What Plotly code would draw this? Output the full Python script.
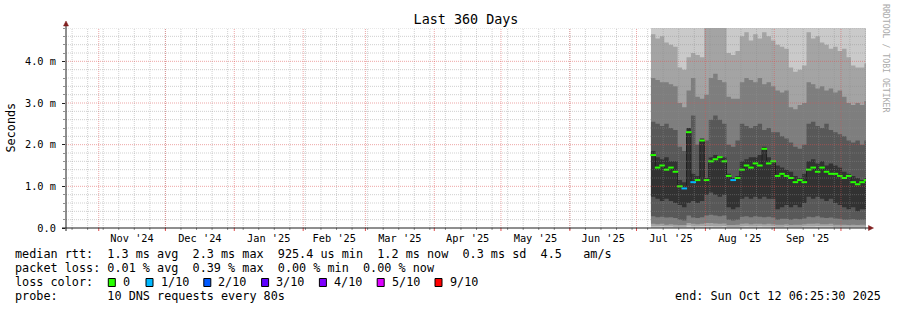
import plotly.graph_objects as go
import pandas as pd
import numpy as np

# ---------------- data (values in ms) ----------------
range_start = "2024-10-17 06:25:30"
range_end = "2025-10-12 06:25:30"
first_bin = "2025-07-07 12:00"   # smoke data starts here, one bin = 2 days

# sorted ping ranks per 2-day bin (p10 is above the visible range)
p10 = [5.5, 5.5, 5.5, 5.5, 5.5, 5.5, 5.5, 5.5, 5.5, 5.5, 5.5, 5.5, 5.5, 5.5, 5.5, 5.5, 5.5,
       5.5, 5.5, 5.5, 5.5, 5.5, 5.5, 5.5, 5.5, 5.5, 5.5, 5.5, 5.5, 5.5, 5.5, 5.5, 5.5, 5.5,
       5.5, 5.5, 5.5, 5.5, 5.5, 5.5, 5.5, 5.5, 5.5, 5.5, 5.5, 5.5, 5.5, 5.5, 5.5]
p9 = [4.65, 4.55, 4.6, 4.45, 4.4, 4.35, 3.85, 3.8, 4.1, 4.2, 4.15, 4.1, 4.9, 4.9, 4.9, 4.9, 4.9,
      4.2, 4.15, 4.25, 4.6, 4.7, 4.5, 4.65, 4.55, 4.7, 4.6, 4.5, 4.4, 4.35, 4.3, 3.85, 3.75, 3.8,
      3.9, 4.7, 4.55, 4.6, 4.45, 4.4, 4.3, 4.35, 4.25, 4.3, 4.1, 3.9, 3.85, 3.85, 3.95]
p8 = [3.6, 3.55, 3.5, 3.5, 3.45, 3.4, 3.0, 2.9, 3.3, 3.6, 3.15, 3.1, 3.2, 3.6, 3.7, 3.55, 3.5,
      3.15, 3.1, 3.1, 3.5, 3.6, 3.55, 3.5, 3.6, 3.45, 3.5, 3.4, 3.3, 3.25, 3.3, 2.9, 2.85, 2.95,
      3.0, 3.5, 3.45, 3.35, 3.4, 3.3, 3.35, 3.25, 3.3, 3.15, 3.0, 2.95, 3.0, 2.95, 3.05]
p7 = [2.55, 2.5, 2.45, 2.5, 2.4, 2.35, 1.95, 1.85, 2.2, 2.7, 2.0, 1.95, 2.1, 2.6, 2.7, 2.6, 2.5,
      2.0, 1.95, 2.1, 2.5, 2.45, 2.4, 2.45, 2.5, 2.35, 2.4, 2.3, 2.3, 2.2, 2.15, 2.05, 1.95, 1.9,
      2.0, 2.5, 2.55, 2.45, 2.4, 2.5, 2.35, 2.3, 2.25, 2.2, 2.1, 2.05, 2.1, 2.0, 2.1]
p6 = [1.85, 1.7, 1.65, 1.7, 1.6, 1.6, 1.15, 1.1, 2.4, 1.3, 1.25, 2.15, 1.2, 1.7, 1.75, 1.7, 1.7,
      1.3, 1.2, 1.25, 1.6, 1.65, 1.7, 1.7, 1.75, 1.95, 1.7, 1.6, 1.5, 1.45, 1.4, 1.35, 1.25, 1.2,
      1.3, 1.6, 1.65, 1.55, 1.6, 1.5, 1.55, 1.5, 1.45, 1.35, 1.3, 1.25, 1.2, 1.15, 1.2]
median = [1.75, 1.45, 1.5, 1.4, 1.45, 1.35, 1.0, 0.95, 2.3, 1.1, 1.15, 2.1, 1.15, 1.6, 1.65, 1.7,
          1.6, 1.25, 1.15, 1.2, 1.4, 1.5, 1.45, 1.55, 1.5, 1.9, 1.55, 1.6, 1.25, 1.3, 1.25, 1.2,
          1.1, 1.15, 1.1, 1.4, 1.45, 1.35, 1.45, 1.35, 1.3, 1.3, 1.25, 1.2, 1.25, 1.1, 1.05, 1.1, 1.15]
p5 = [0.75, 0.7, 0.65, 0.7, 0.65, 0.6, 0.55, 0.5, 0.6, 0.65, 0.6, 0.65, 0.8, 0.85, 0.8, 0.75, 0.8,
      0.5, 0.45, 0.5, 0.7, 0.75, 0.7, 0.75, 0.7, 0.75, 0.7, 0.7, 0.45, 0.5, 0.55, 0.5, 0.55, 0.5,
      0.6, 0.75, 0.7, 0.75, 0.7, 0.65, 0.7, 0.6, 0.55, 0.5, 0.45, 0.5, 0.4, 0.45, 0.45]
p4 = [0.28, 0.26, 0.27, 0.25, 0.26, 0.24, 0.2, 0.18, 0.3, 0.25, 0.24, 0.26, 0.3, 0.32, 0.3, 0.28, 0.3,
      0.2, 0.18, 0.2, 0.27, 0.28, 0.26, 0.28, 0.27, 0.26, 0.27, 0.25, 0.2, 0.22, 0.22, 0.2, 0.22, 0.21,
      0.23, 0.27, 0.26, 0.28, 0.25, 0.24, 0.25, 0.23, 0.22, 0.2, 0.2, 0.21, 0.19, 0.2, 0.2]
p3 = [0.1, 0.09, 0.1, 0.08, 0.09, 0.08, 0.07, 0.07, 0.12, 0.1, 0.09, 0.1, 0.12, 0.12, 0.11, 0.1, 0.11,
      0.07, 0.07, 0.08, 0.1, 0.11, 0.09, 0.1, 0.1, 0.09, 0.1, 0.09, 0.08, 0.08, 0.09, 0.07, 0.08, 0.08,
      0.09, 0.1, 0.1, 0.11, 0.09, 0.09, 0.1, 0.08, 0.08, 0.08, 0.07, 0.08, 0.07, 0.08, 0.08]
p2 = [0.04, 0.04, 0.05, 0.04, 0.04, 0.03, 0.03, 0.03, 0.06, 0.04, 0.04, 0.05, 0.05, 0.05, 0.04, 0.04, 0.05,
      0.03, 0.03, 0.03, 0.04, 0.05, 0.04, 0.04, 0.05, 0.04, 0.04, 0.04, 0.03, 0.03, 0.04, 0.03, 0.03, 0.03,
      0.04, 0.04, 0.04, 0.05, 0.04, 0.04, 0.04, 0.03, 0.03, 0.03, 0.03, 0.03, 0.03, 0.03, 0.03]
p1 = [0.0, 0.0, 0.0, 0.0, 0.0, 0.0, 0.0, 0.0, 0.0, 0.0, 0.0, 0.0, 0.0, 0.0, 0.0, 0.0, 0.0,
      0.0, 0.0, 0.0, 0.0, 0.0, 0.0, 0.0, 0.0, 0.0, 0.0, 0.0, 0.0, 0.0, 0.0, 0.0, 0.0, 0.0,
      0.0, 0.0, 0.0, 0.0, 0.0, 0.0, 0.0, 0.0, 0.0, 0.0, 0.0, 0.0, 0.0, 0.0, 0.0]
# packet loss per bin (out of 10 pings)
loss = [0, 0, 0, 0, 0, 0, 0, 1, 0, 1, 0, 0, 0, 0, 0, 0, 0, 0, 1, 0, 0, 0, 0, 0, 0, 0, 0, 0, 0, 0,
        0, 0, 0, 0, 0, 0, 0, 0, 0, 0, 0, 0, 0, 0, 0, 0, 0, 0, 0]

month_labels = ["Nov '24", "Dec '24", "Jan '25", "Feb '25", "Mar '25", "Apr '25",
                "May '25", "Jun '25", "Jul '25", "Aug '25", "Sep '25"]
y_tick_vals = [0, 1, 2, 3, 4]
y_tick_text = ["0.0", "1.0 m", "2.0 m", "3.0 m", "4.0 m"]

loss_labels = ["0", "1/10", "2/10", "3/10", "4/10", "5/10", "9/10"]
loss_colors = ["#26ff00", "#00b8ff", "#0059ff", "#5e00ff", "#7e00ff", "#dd00ff", "#ff0000"]
loss_color_of = {0: "#26ff00", 1: "#00b8ff", 2: "#0059ff", 3: "#5e00ff", 4: "#7e00ff", 5: "#dd00ff", 9: "#ff0000"}

legend_rows = [
    "median rtt:  1.3 ms avg  2.3 ms max  925.4 us min  1.2 ms now  0.3 ms sd  4.5   am/s",
    "packet loss: 0.01 % avg  0.39 % max  0.00 % min  0.00 % now",
    "loss color:",
    "probe:       10 DNS requests every 80s",
]
end_text = "end: Sun Oct 12 06:25:30 2025"

# ---------------- layout geometry ----------------
W, H = 897, 310
L, T = 66, 28
PW, PH = 800, 200
R = W - L - PW
B = H - T - PH
FONT = "DejaVu Sans Mono"


def px(xp):
    return (xp - L) / PW


def py(yp):
    return (T + PH - yp) / PH


n = len(median)
bins = pd.date_range(first_bin, periods=n, freq="2D")
xs = list(bins) + [pd.Timestamp(range_end)]


def ext(v):
    return list(v) + [v[-1]]


fig = go.Figure()

# smoke (SmokePing style: outer pairs lighter)
layers = [(p1, p10, "#cacaca"), (p2, p9, "#a4a4a4"), (p3, p8, "#7e7e7e"),
          (p4, p7, "#585858"), (p5, p6, "#323232")]
for lo, hi, col in layers:
    fig.add_trace(go.Scatter(x=xs, y=ext(lo), mode="lines", line=dict(width=0, shape="hv"),
                             hoverinfo="skip", showlegend=False))
    fig.add_trace(go.Scatter(x=xs, y=ext(hi), mode="lines", line=dict(width=0, shape="hv"),
                             fill="tonexty", fillcolor=col, hoverinfo="skip", showlegend=False))

# median line
fig.add_trace(go.Scatter(x=xs, y=ext(median), mode="lines",
                         line=dict(width=1, shape="hv", color="#202020"),
                         hoverinfo="skip", showlegend=False))
centers = [b + pd.Timedelta(days=1) for b in bins]
fig.add_trace(go.Scatter(x=centers, y=median, mode="markers",
                         marker=dict(symbol="line-ew", size=4,
                                     line=dict(width=2, color=[loss_color_of[l] for l in loss])),
                         hoverinfo="skip", showlegend=False))

shapes = []
GRID = "rgba(143,143,143,0.42)"
MGRID = "rgba(222,79,79,0.5)"
DOT = "1px,1px"
weeks = pd.date_range("2024-10-20", range_end, freq="7D")
months = pd.date_range("2024-11-01", range_end, freq="MS")
for wk in weeks:
    shapes.append(dict(type="line", xref="x", yref="paper", x0=wk, x1=wk, y0=0, y1=1,
                       line=dict(color=GRID, width=1, dash=DOT), layer="above"))
    shapes.append(dict(type="line", xref="x", yref="paper", x0=wk, x1=wk, y0=0, y1=-2 / PH,
                       line=dict(color="#8f8f8f", width=1), layer="above"))
for ms in months:
    shapes.append(dict(type="line", xref="x", yref="paper", x0=ms, x1=ms, y0=0, y1=1,
                       line=dict(color=MGRID, width=1, dash=DOT), layer="above"))
    shapes.append(dict(type="line", xref="x", yref="paper", x0=ms, x1=ms, y0=0, y1=-3 / PH,
                       line=dict(color="#de4f4f", width=1), layer="above"))
for v in np.round(np.arange(0.2, 4.81, 0.2), 1):
    if abs(v - round(v)) < 1e-6:
        continue
    shapes.append(dict(type="line", xref="paper", yref="y", x0=0, x1=1, y0=v, y1=v,
                       line=dict(color=GRID, width=1, dash=DOT), layer="above"))
for v in y_tick_vals[1:]:
    shapes.append(dict(type="line", xref="paper", yref="y", x0=0, x1=1, y0=v, y1=v,
                       line=dict(color=MGRID, width=1, dash=DOT), layer="above"))

# axes with arrows
AX = "#1f1f1f"
ARROW = "#801f1f"
shapes.append(dict(type="line", xref="paper", yref="paper", x0=px(62), x1=px(869), y0=0, y1=0,
                   line=dict(color=AX, width=1), layer="above"))
shapes.append(dict(type="line", xref="paper", yref="paper", x0=0, x1=0, y0=py(231), y1=py(25),
                   line=dict(color=AX, width=1), layer="above"))
shapes.append(dict(type="path", xref="paper", yref="paper",
                   path=f"M {px(868.5)},{py(225.5)} L {px(873.5)},{py(228)} L {px(868.5)},{py(230.5)} Z",
                   fillcolor=ARROW, line=dict(color=ARROW, width=0.5), layer="above"))
shapes.append(dict(type="path", xref="paper", yref="paper",
                   path=f"M {px(63.5)},{py(26)} L {px(66)},{py(21)} L {px(68.5)},{py(26)} Z",
                   fillcolor=ARROW, line=dict(color=ARROW, width=0.5), layer="above"))

annotations = []


def text(xp, yp, s, size=11.8, anchor="left", color="#000000", angle=0):
    annotations.append(dict(x=px(xp), y=py(yp), xref="paper", yref="paper", text=s.replace(" ", "\u00a0"),
                            showarrow=False, xanchor=anchor, yanchor="middle", textangle=angle,
                            font=dict(family=FONT, size=size, color=color),
                            borderpad=0, borderwidth=0))


row_y = [254, 268, 282, 296]
for i, s in enumerate(legend_rows):
    text(15, row_y[i], s)
text(881, row_y[3], end_text, anchor="right")

# loss colour boxes
bx = 108.3
for lab, col in zip(loss_labels, loss_colors):
    shapes.append(dict(type="rect", xref="paper", yref="paper", x0=px(bx), x1=px(bx + 7),
                       y0=py(286.5), y1=py(278.5), fillcolor=col, line=dict(color="#000000", width=1)))
    text(bx + 14.5, row_y[2], lab)
    bx += 31 + 6.7 * len(lab)

text(10, 127.5, "Seconds", angle=-90, anchor="center")
text(886, 59, "RRDTOOL / TOBI OETIKER", size=8.2, angle=90, anchor="center", color="#aaaaaa")

# month label positions: middle of each month
label_vals = [months[i] + (months[i + 1] - months[i]) / 2 for i in range(len(months) - 1)]
label_vals = label_vals[:len(month_labels)]

fig.update_layout(
    width=W, height=H,
    margin=dict(l=L, r=R, t=T, b=B),
    paper_bgcolor="#ffffff", plot_bgcolor="#ffffff",
    title=dict(text="Last 360 Days", x=0.5, xref="paper", xanchor="center",
               y=1 - 19.5 / H, yref="container", yanchor="middle",
               font=dict(family=FONT, size=13.4, color="#000000")),
    xaxis=dict(type="date", range=[range_start, range_end], showgrid=False, zeroline=False,
               showline=False, tickmode="array", tickvals=label_vals, ticktext=month_labels,
               ticks="", tickfont=dict(family=FONT, size=10.3, color="#000000"),
               ticklabelstandoff=3, fixedrange=True),
    yaxis=dict(range=[0, 4.8], showgrid=False, zeroline=False, showline=False,
               tickmode="array", tickvals=y_tick_vals, ticktext=y_tick_text,
               ticks="outside", ticklen=3, tickcolor=AX, tickwidth=1,
               minor=dict(tickmode="array", tickvals=[v for v in np.round(np.arange(0.2, 4.81, 0.2), 1)
                                                      if abs(v - round(v)) > 1e-6],
                          ticks="outside", ticklen=2, tickcolor="#8f8f8f"),
               tickfont=dict(family=FONT, size=10.3, color="#000000"),
               ticklabelstandoff=4, fixedrange=True),
    shapes=shapes,
    annotations=annotations,
    showlegend=False,
)

fig.write_html("out.html")
